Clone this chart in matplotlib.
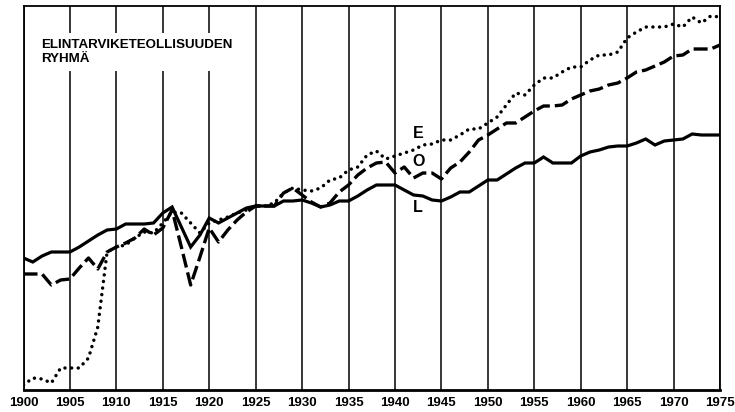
import matplotlib
matplotlib.use("Agg")
import matplotlib.pyplot as plt
import numpy as np

years = np.arange(1900, 1976)

# E = dotted, O = dashed, L = solid (relative scale)
E = [5, 12, 11, 7, 22, 22, 22, 32, 63, 138,
     143, 145, 152, 158, 157, 167, 178, 177, 167, 157,
     167, 170, 173, 177, 180, 184, 184, 187, 197, 202,
     200, 199, 202, 210, 212, 220, 223, 235, 239, 231,
     234, 237, 240, 245, 246, 250, 250, 255, 261, 261,
     267, 273, 285, 297, 295, 305, 312, 312, 318, 323,
     323, 330, 335, 335, 338, 352, 358, 363, 363, 363,
     366, 363, 373, 367, 374, 373]
O = [116, 116, 116, 105, 110, 111, 122, 132, 121, 138,
     143, 147, 152, 161, 155, 162, 180, 143, 105, 133,
     162, 148, 160, 170, 178, 184, 184, 184, 197, 202,
     195, 188, 183, 187, 198, 205, 215, 222, 227, 228,
     217, 223, 212, 217, 217, 211, 222, 228, 238, 250,
     255, 261, 267, 267, 273, 279, 284, 284, 285, 291,
     295, 299, 301, 305, 307, 312, 318, 320, 324, 328,
     334, 335, 341, 341, 341, 345]
L = [132, 128, 134, 138, 138, 138, 143, 149, 155, 160,
     161, 166, 166, 166, 167, 177, 183, 163, 143, 155,
     172, 167, 172, 177, 182, 184, 184, 184, 189, 189,
     190, 187, 183, 185, 189, 189, 194, 200, 205, 205,
     205, 200, 195, 194, 190, 189, 193, 198, 198, 204,
     210, 210, 216, 222, 227, 227, 233, 227, 227, 227,
     234, 238, 240, 243, 244, 244, 247, 251, 245, 249,
     250, 251, 256, 255, 255, 255]

tick_years = list(range(1900, 1976, 5))
title = "ELINTARVIKETEOLLISUUDEN\nRYHMÄ"

plt.rcParams['font.family'] = ['Liberation Sans', 'DejaVu Sans']

fig = plt.figure(figsize=(7.35, 4.12), dpi=100)
ax = fig.add_axes([23.5 / 735, 22 / 412, 696.5 / 735, 384 / 412])

for x in tick_years:
    ax.axvline(x, color='black', lw=1.1, zorder=1)

ax.plot(years, L, color='black', lw=2.3, solid_joinstyle='miter', zorder=3)
ax.plot(years, O, color='black', lw=2.4, linestyle=(0, (4.2, 1.5)), zorder=3)
ax.plot(years, E, color='black', lw=2.5, linestyle=(0, (0.01, 1.9)),
        dash_capstyle='round', zorder=3)

ax.text(1942.5, 257, "E", fontsize=11.5, fontweight='bold', ha='center', va='center')
ax.text(1942.5, 228, "O", fontsize=11.5, fontweight='bold', ha='center', va='center')
ax.text(1942.5, 182, "L", fontsize=11.5, fontweight='bold', ha='center', va='center')

ax.text(0.026, 0.915, title, transform=ax.transAxes, fontsize=9.6,
        fontweight='bold', ha='left', va='top', linespacing=1.3, zorder=4,
        bbox=dict(facecolor='white', edgecolor='none', pad=4))

ax.set_xlim(1900, 1975)
ax.set_ylim(0, 384)
ax.set_xticks(tick_years)
ax.set_xticklabels([str(y) for y in tick_years], fontsize=9.5, fontweight='bold')
ax.tick_params(axis='x', length=0, pad=5)
ax.set_yticks([])
for s in ['left', 'top', 'right']:
    ax.spines[s].set_linewidth(1.3)
ax.spines['bottom'].set_linewidth(2.0)

fig.savefig("out.png", dpi=100)
